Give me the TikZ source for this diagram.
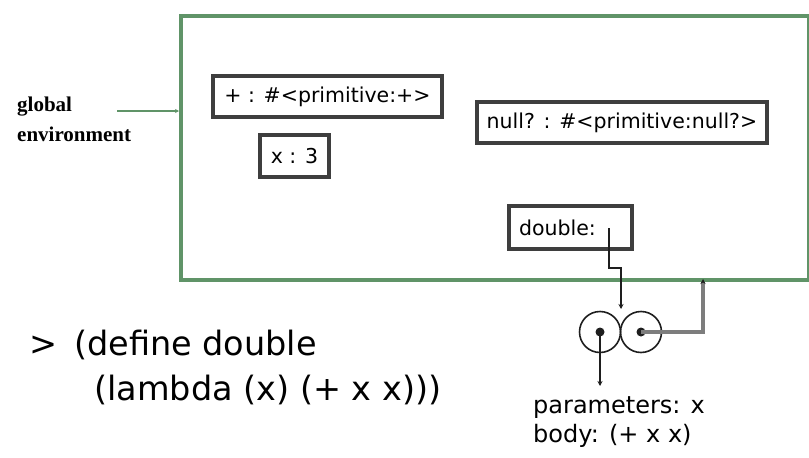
\documentclass[tikz,border=0pt]{standalone}
\usepackage{fontspec}
\setmainfont{DejaVu Sans}
\newfontfamily\envlabelfont{Liberation Serif}
\usetikzlibrary{arrows.meta}

\definecolor{envgreen}{RGB}{96,148,104}
\definecolor{framegray}{RGB}{62,62,62}
\definecolor{wiregray}{RGB}{125,125,125}
\definecolor{inkdark}{RGB}{30,30,30}

\begin{document}
\begin{tikzpicture}[x=1pt,y=-1pt,
  envframe/.style={draw=envgreen, line width=3.6pt, inner sep=0pt},
  binding/.style={draw=framegray, line width=3.2pt, fill=white, inner sep=0pt,
    font=\fontsize{20.5}{24}\selectfont},
  cell/.style={circle, draw=inkdark, line width=1.6pt, inner sep=0pt, minimum size=41pt},
  dot/.style={circle, fill=inkdark, inner sep=0pt, minimum size=9pt},
  ptr/.style={draw=inkdark, line width=2pt, -{Stealth[length=5pt,width=5pt]}},
  wire/.style={draw=wiregray, line width=3.2pt, -{Stealth[length=5pt,width=5pt,inkdark]}},
  codetext/.style={inner sep=0pt, anchor=base west, font=\fontsize{33.5}{40}\selectfont},
  notetext/.style={inner sep=0pt, anchor=base west, font=\fontsize{24}{29}\selectfont},
  envtext/.style={inner sep=0pt, anchor=base west, font=\envlabelfont\bfseries\fontsize{21}{25}\selectfont}
]
\useasboundingbox (0,0) rectangle (809,458);

% global environment frame
\node[envframe, anchor=north west, minimum width=628pt, minimum height=264pt] (env) at (179,14) {};

% label with its pointer into the frame
\node[envtext] (glabel) at (17,111) {global};
\node[envtext] (elabel) at (17,141) {environment};
\coordinate (gstart) at (117,111);
\draw[envgreen, line width=2pt, -{Stealth[length=4pt,width=4pt]}] (gstart) -- (gstart -| env.west);

% bindings
\node[binding, minimum width=229pt, minimum height=41pt] (plus) at (327.5,96.5) {+ : \#<primitive:+>};
\node[binding, minimum width=69pt, minimum height=42pt] (xval) at (294.5,156) {x : 3};
\node[binding, minimum width=290pt, minimum height=41pt] (nullp) at (622,122.5) {null? : \#<primitive:null?>};
\node[binding, minimum width=123pt, minimum height=43pt, text width=103pt, align=left] (dbl) at (570.5,227.5) {double:};

% procedure object: two cells
\node[cell] (lcell) at (600,332) {};
\node[cell] (rcell) at (641,332) {};
\node[dot] (ldot) at (lcell.center) {};
\node[dot] (rdot) at (rcell.center) {};

% pointers
\coordinate (dptr) at (609,228);
\coordinate (celltop) at (621,309);
\coordinate (envlink) at (703,279);
\coordinate (codeptr) at (600,386);
\draw[ptr] (dptr) -- ++(0,40) -| (celltop);
\draw[wire] (rdot.center) -| (envlink);
\draw[ptr] (ldot.center) -- (codeptr);

% parameters and body of the procedure
\node[notetext] (params) at (533,413) {parameters: x};
\node[notetext] (body) at (533,442) {body: (+ x x)};

% the expression that was evaluated
\node[codetext] (prompt) at (29,355) {>};
\node[codetext] (code1) at (74,355) {(define double};
\node[codetext] (code2) at (94,400) {(lambda (x) (+ x x)))};
\end{tikzpicture}
\end{document}
